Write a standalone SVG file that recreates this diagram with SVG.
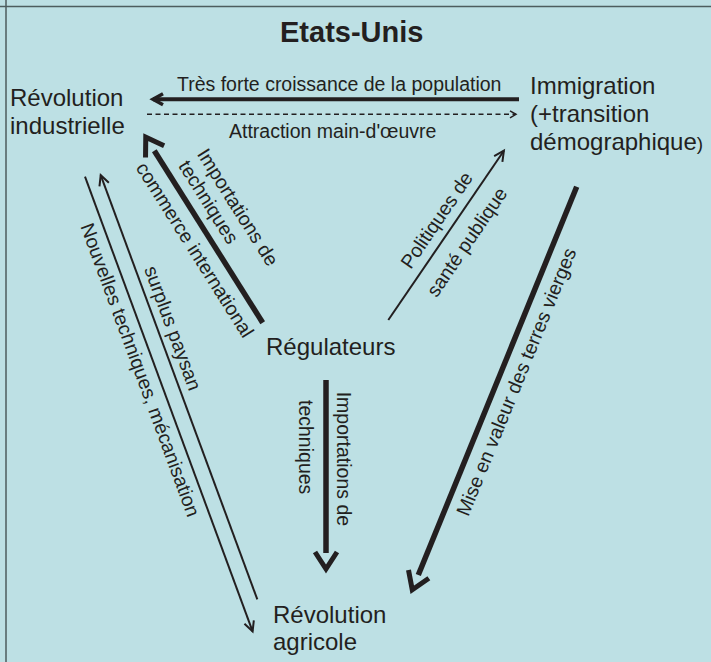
<svg xmlns="http://www.w3.org/2000/svg" width="711" height="662" viewBox="0 0 711 662">
<style>
.bg{fill:#bde0e4}
.frame{stroke:#4e5d5e;stroke-width:1.5;fill:none}
.node{font-family:"Liberation Sans",Arial,sans-serif;font-size:24px;fill:#231f20}
.title{font-family:"Liberation Sans",Arial,sans-serif;font-size:29px;font-weight:bold;fill:#231f20}
.lbl{font-family:"Liberation Sans",Arial,sans-serif;font-size:19.5px;fill:#231f20}
.thick{stroke:#231f20;stroke-width:5.5;fill:none}
.med{stroke:#231f20;stroke-width:4;fill:none}
.thin{stroke:#231f20;stroke-width:2;fill:none}
.dash{stroke:#231f20;stroke-width:1.5;fill:none;stroke-dasharray:5 3.5}
</style>
<defs>
<marker id="bigV" markerUnits="userSpaceOnUse" orient="auto" refX="0" refY="0" markerWidth="40" markerHeight="40" viewBox="-10 -20 40 40" overflow="visible">
<path d="M-1,-11 L16,0 L-1,11" fill="none" stroke="#231f20" stroke-width="5"/>
</marker>
<marker id="medV" markerUnits="userSpaceOnUse" orient="auto" refX="0" refY="0" markerWidth="30" markerHeight="30" viewBox="-15 -15 30 30" overflow="visible">
<path d="M10,-5.5 L0,0 L10,5.5" fill="none" stroke="#231f20" stroke-width="3.5" transform="rotate(180)"/>
</marker>
<marker id="smallV" markerUnits="userSpaceOnUse" orient="auto" refX="0" refY="0" markerWidth="30" markerHeight="30" viewBox="-15 -15 30 30" overflow="visible">
<path d="M-10,-5 L0,0 L-10,5" fill="none" stroke="#231f20" stroke-width="2"/>
</marker>
<marker id="tinyV" markerUnits="userSpaceOnUse" orient="auto" refX="0" refY="0" markerWidth="20" markerHeight="20" viewBox="-10 -10 20 20" overflow="visible">
<path d="M-6,-3.5 L0,0 L-6,3.5" fill="none" stroke="#231f20" stroke-width="1.5"/>
</marker>
</defs>
<rect class="bg" x="0" y="0" width="711" height="662"/>
<line class="frame" x1="0" y1="6.5" x2="711" y2="6.5"/>
<line class="frame" x1="6" y1="0" x2="6" y2="662"/>
<text class="title" x="280" y="41.5">Etats-Unis</text>

<g id="revolution-industrielle">
<text class="node" x="10" y="106">Révolution</text>
<text class="node" x="10" y="134">industrielle</text>
</g>
<g id="immigration">
<text class="node" x="530" y="94">Immigration</text>
<text class="node" x="530" y="122">(+transition</text>
<text class="node" x="530" y="150">démographique<tspan font-size="19">)</tspan></text>
</g>
<g id="regulateurs">
<text class="node" x="266" y="355">Régulateurs</text>
</g>
<g id="revolution-agricole">
<text class="node" x="273" y="623">Révolution</text>
<text class="node" x="273" y="650">agricole</text>
</g>

<g id="connectors">
<path class="med" d="M519,99.3 L153,99.3" marker-end="url(#medV)"/>
<path class="dash" d="M147,114.3 L516,114.3" marker-end="url(#tinyV)"/>
<path class="thick" d="M262.7,322.7 L154.3,150.7" marker-end="url(#bigV)"/>
<path class="thin" d="M388.3,320 L503.9,150.7" marker-end="url(#smallV)"/>
<path class="thick" d="M576.7,186.7 L418.3,575" marker-end="url(#bigV)"/>
<path class="thick" d="M326,380 L326,553" marker-end="url(#bigV)"/>
<path class="thin" d="M85,176.7 L252.6,631.4" marker-end="url(#smallV)"/>
<path class="thin" d="M257.3,599.3 L100.7,175.2" marker-end="url(#smallV)"/>

<text class="lbl" x="177" y="90.7">Très forte croissance de la population</text>
<text class="lbl" x="229" y="138.3">Attraction main-d'œuvre</text>
<text class="lbl" transform="translate(196.4,154) rotate(57.78)">Importations de</text>
<text class="lbl" transform="translate(177.8,165.8) rotate(57.78)">techniques</text>
<text class="lbl" transform="translate(135.3,167.7) rotate(57.78)">commerce international</text>
<text class="lbl" text-anchor="middle" transform="translate(442.2,223.8) rotate(-55.7)">Politiques de</text>
<text class="lbl" text-anchor="middle" transform="translate(472.4,245.8) rotate(-55.7)">santé publique</text>
<text class="lbl" text-anchor="middle" transform="translate(522.5,384.4) rotate(-67.8)">Mise en valeur des terres vierges</text>
<text class="lbl" transform="translate(336.5,391.7) rotate(90)">Importations de</text>
<text class="lbl" transform="translate(299,400) rotate(90)">techniques</text>
<text class="lbl" transform="translate(80.2,226.2) rotate(69.75)">Nouvelles techniques, mécanisation</text>
<text class="lbl" transform="translate(143.9,268.9) rotate(69.75)">surplus paysan</text>
</g>
</svg>
